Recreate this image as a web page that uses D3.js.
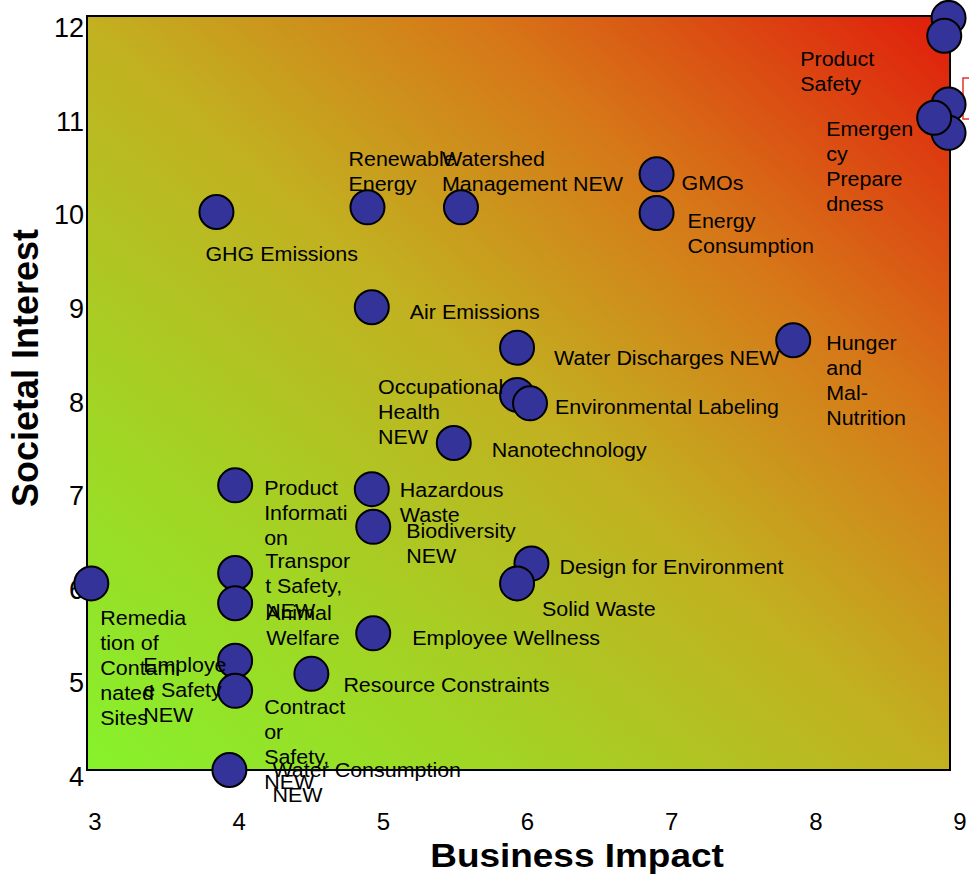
<!DOCTYPE html>
<html>
<head>
<meta charset="utf-8">
<script src="https://cdn.jsdelivr.net/npm/d3@7"></script>
<style>
  html, body { margin: 0; padding: 0; background: #ffffff; }
  svg { display: block; }
  text { font-family: "Liberation Sans", Arial, sans-serif; fill: #000; }
</style>
</head>
<body>
<div id="chart"></div>
<script>
// ---------------- data ----------------
const labels = [
  "", "Product|Safety", "", "", "Emergen|cy|Prepare|dness",
  "GMOs", "Energy|Consumption", "Renewable|Energy", "Watershed|Management NEW",
  "GHG Emissions", "Air Emissions", "Water Discharges NEW", "Hunger|and|Mal-|Nutrition",
  "Occupational|Health|NEW", "Environmental Labeling", "Nanotechnology",
  "Product|Informati|on", "Hazardous|Waste", "Biodiversity|NEW",
  "Design for Environment", "Solid Waste", "Transpor|t Safety,|NEW",
  "Animal|Welfare", "Employee Wellness", "Remedia|tion of|Contami|nated|Sites",
  "Employe|e Safety|NEW", "Resource Constraints", "Contract|or|Safety,|NEW",
  "Water Consumption|NEW"
];
const businessImpact = [
  8.99, 8.96, 8.99, 8.99, 8.89,
  6.96, 6.96, 4.95, 5.60,
  3.90, 4.98, 5.99, 7.91,
  5.99, 6.08, 5.55,
  4.03, 4.98, 4.99,
  6.09, 5.99, 4.03,
  4.03, 4.99, 3.03,
  4.03, 4.56, 4.03,
  3.99
];
const societalInterest = [
  11.98, 11.79, 11.06, 10.76, 10.92,
  10.32, 9.91, 9.97, 9.97,
  9.92, 8.91, 8.48, 8.56,
  7.98, 7.89, 7.47,
  7.02, 6.98, 6.58,
  6.19, 5.98, 6.09,
  5.77, 5.45, 5.98,
  5.16, 5.02, 4.84,
  4.00
];
const xTicks = [3, 4, 5, 6, 7, 8, 9];
const yTicks = [4, 5, 6, 7, 8, 9, 10, 11, 12];
const xTitle = "Business Impact";
const yTitle = "Societal Interest";

// ---------------- layout (label offsets in px from point centre) ----------------
const labelOffsets = [
  [0,0], [-144,23], [0,0], [0,0], [-108,11],
  [25,9], [31,8], [-19,-48], [-19,-48],
  [-11,42], [38,5], [37,10], [33,3],
  [-139,-8], [25,3], [38,7],
  [29,3], [28,1], [33,4],
  [28,3], [25,25], [30,-12],
  [31,10], [39,5], [9,34],
  [-92,4], [32,11], [29,16],
  [43,0]
];

const W = 969, H = 875;
const plot = { left: 87, right: 950, top: 16, bottom: 770 };

const x = d3.scaleLinear().domain([3, 9]).range([plot.left, plot.right]);
const y = d3.scaleLinear().domain([4, 12]).range([plot.bottom, plot.top]);
// tick labels sit slightly offset from the gridline positions in the original
const xLab = d3.scaleLinear().domain([3, 9]).range([95, 960]);
const yLab = d3.scaleLinear().domain([4, 12]).range([777, 28]);

const svg = d3.select("#chart").append("svg")
  .attr("width", W).attr("height", H);

const defs = svg.append("defs");
const grad = defs.append("linearGradient")
  .attr("id", "bg").attr("x1", 0).attr("y1", 1).attr("x2", 1).attr("y2", 0);
[[0, "#86f22c"], [0.25, "#a2d424"], [0.5, "#c2b020"], [0.72, "#d67818"], [1, "#e01c0c"]]
  .forEach(([o, c]) => grad.append("stop").attr("offset", o).attr("stop-color", c));

svg.append("rect")
  .attr("x", plot.left).attr("y", plot.top)
  .attr("width", plot.right - plot.left).attr("height", plot.bottom - plot.top)
  .attr("fill", "url(#bg)").attr("stroke", "#000").attr("stroke-width", 2);

// tick labels
svg.append("g").selectAll("text").data(yTicks).join("text")
  .attr("x", 84).attr("y", d => yLab(d))
  .attr("text-anchor", "end").attr("dominant-baseline", "central")
  .attr("font-size", 27).text(d => d);

svg.append("g").selectAll("text").data(xTicks).join("text")
  .attr("transform", d => `translate(${xLab(d)},${821})`)
  .attr("text-anchor", "middle").attr("dominant-baseline", "central")
  .attr("font-size", 24).text(d => d);

// axis titles
svg.append("text")
  .attr("transform", `translate(577,855) scale(1.12,1)`)
  .attr("text-anchor", "middle").attr("dominant-baseline", "central")
  .attr("font-size", 33).attr("font-weight", "bold").text(xTitle);

svg.append("text")
  .attr("transform", `translate(25,368) rotate(-90)`)
  .attr("text-anchor", "middle").attr("dominant-baseline", "central")
  .attr("font-size", 36).attr("font-weight", "bold").text(yTitle);

// off-edge red label box
svg.append("rect")
  .attr("x", 963).attr("y", 78).attr("width", 20).attr("height", 41)
  .attr("fill", "none").attr("stroke", "#e8302c").attr("stroke-width", 1.5);

const pts = labels.map((l, i) => ({
  label: l, bx: businessImpact[i], si: societalInterest[i],
  off: labelOffsets[i]
}));

// points
svg.append("g").selectAll("circle").data(pts).join("circle")
  .attr("cx", d => x(d.bx)).attr("cy", d => y(d.si)).attr("r", 17)
  .attr("fill", "#333399").attr("stroke", "#000").attr("stroke-width", 2);

// labels
const lg = svg.append("g").selectAll("g").data(pts.filter(d => d.label)).join("g")
  .attr("transform", d => `translate(${x(d.bx) + d.off[0]},${y(d.si) + d.off[1]}) scale(1.1,1)`);
lg.each(function(d) {
  const g = d3.select(this);
  d.label.split("|").forEach((line, k) => {
    g.append("text").attr("x", 0).attr("y", k * 25)
      .attr("dominant-baseline", "central")
      .attr("font-size", 19.5).text(line);
  });
});
</script>
</body>
</html>
